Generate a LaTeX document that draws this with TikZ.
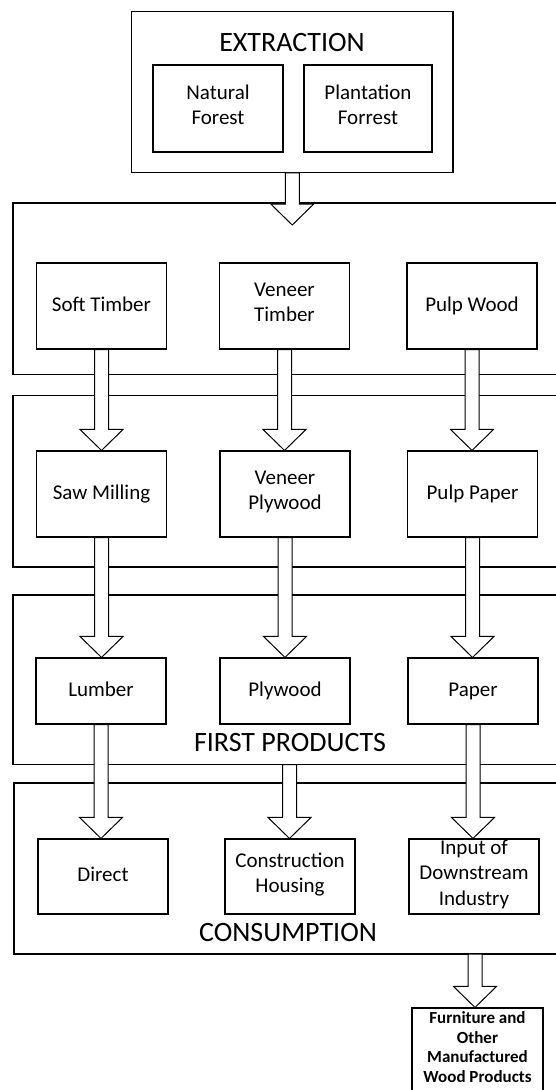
\documentclass[tikz,border=0pt]{standalone}
\usepackage{fontspec}
\setmainfont{Carlito}
\usepackage{tikz}
\usetikzlibrary{calc}

% flecha hueca de bloque: del punto #1 hasta la punta #2
\newcommand{\flechagorda}[2]{%
  \path[flecha] let \p1=(#1), \p2=(#2) in
    (\x1-7pt,\y1) -- (\x1-7pt,\y2+21pt) -- (\x1-21.5pt,\y2+21pt) -- (\x1,\y2)
    -- (\x1+21.5pt,\y2+21pt) -- (\x1+7pt,\y2+21pt) -- (\x1+7pt,\y1) -- cycle;}

\begin{document}
\begin{tikzpicture}[x=1pt, y=-1pt,
    caja/.style={draw, line width=1.1pt, minimum width=130pt, minimum height=86pt,
                 inner sep=0pt, align=center, font=\fontsize{21}{25.5}\selectfont,
                 execute at begin node=\strut, execute at end node=\strut},
    titulo/.style={font=\fontsize{28}{32}\selectfont},
    panel/.style={draw, line width=1.1pt},
    flecha/.style={draw, line width=1pt, fill=white}]

    \useasboundingbox (0,0) rectangle (555,1090);

    % Extraccion
    \node[draw, line width=1.1pt, minimum width=321.5pt, minimum height=160.5pt] (ext) at (292.25,92.15) {};
    \node[titulo] (exttit) at (292,43) {EXTRACTION};
    \node[caja, minimum height=87pt] (natural) at (218,108.5) {Natural\\Forest};
    \node[caja, minimum width=128pt, minimum height=87pt] (plantation) at (368,108.5) {Plantation\\Forrest};

    % Paneles (abiertos a la derecha)
    \draw[panel] (560,203) -| (13,374.5) -- (560,374.5);
    \draw[panel] (560,395.5) -| (13,567) -- (560,567);
    \draw[panel] (560,595) -| (13,764.5) -- (560,764.5);
    \draw[panel] (560,783) -| (14,954) -- (560,954);

    % Materia prima
    \node[caja] (soft) at (101.5,306) {Soft Timber};
    \node[caja] (veneer) at (284.5,306) {Veneer\\Timber};
    \node[caja] (pulpwood) at (472,306) {Pulp Wood};

    % Procesos
    \node[caja] (saw) at (101.5,494) {Saw Milling};
    \node[caja] (vplywood) at (285,494) {Veneer\\Plywood};
    \node[caja] (pulppaper) at (472.5,494) {Pulp Paper};

    % Primeros productos
    \node[caja, minimum height=66pt] (lumber) at (101,691) {Lumber};
    \node[caja, minimum height=66pt] (plywood) at (285,691) {Plywood};
    \node[caja, minimum height=66pt] (paper) at (473,691) {Paper};
    \node[titulo] (firstprod) at (290,743) {FIRST PRODUCTS};

    % Consumo
    \node[caja, minimum height=75pt] (direct) at (103,876.5) {Direct};
    \node[caja, minimum height=75pt] (housing) at (290,876.5) {Construction\\Housing};
    \node[caja, minimum height=75pt] (downstream) at (474,876.5) {Input of\\Downstream\\Industry};
    \node[titulo] (consumption) at (288,933) {CONSUMPTION};

    % Producto final
    \node[caja, minimum width=131pt, minimum height=84pt,
          execute at begin node={}, execute at end node={},
          font=\fontsize{17}{19.8}\selectfont\bfseries] (furniture) at (477.5,1050)
          {Furniture and\\Other\\Manufactured\\Wood Products};

    % Flechas
    \coordinate (p1in) at (293.5,225);
    \coordinate (p3out) at (289.5,764.5);
    \coordinate (p4out) at (475,954);
    \flechagorda{ext.south}{p1in}
    \flechagorda{soft.south}{saw.north}
    \flechagorda{veneer.south}{vplywood.north}
    \flechagorda{pulpwood.south}{pulppaper.north}
    \flechagorda{saw.south}{lumber.north}
    \flechagorda{vplywood.south}{plywood.north}
    \flechagorda{pulppaper.south}{paper.north}
    \flechagorda{lumber.south}{direct.north}
    \flechagorda{p3out}{housing.north}
    \flechagorda{paper.south}{downstream.north}
    \flechagorda{p4out}{furniture.north}

\end{tikzpicture}
\end{document}
